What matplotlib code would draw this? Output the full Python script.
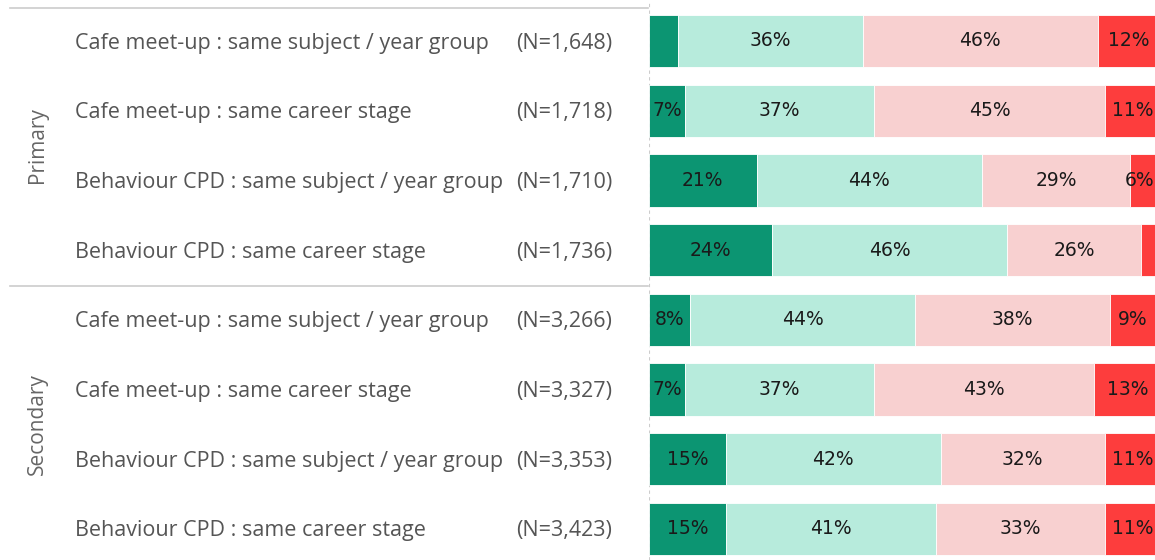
import matplotlib.pyplot as plt
from matplotlib.transforms import blended_transform_factory
from matplotlib.lines import Line2D

# data, top to bottom
labels = [
    "Cafe meet-up : same subject / year group",
    "Cafe meet-up : same career stage",
    "Behaviour CPD : same subject / year group",
    "Behaviour CPD : same career stage",
    "Cafe meet-up : same subject / year group",
    "Cafe meet-up : same career stage",
    "Behaviour CPD : same subject / year group",
    "Behaviour CPD : same career stage",
]
counts = ["(N=1,648)", "(N=1,718)", "(N=1,710)", "(N=1,736)",
          "(N=3,266)", "(N=3,327)", "(N=3,353)", "(N=3,423)"]
groups = ["Primary", "Secondary"]
group_rows = [(0, 3), (4, 7)]

very_likely = [5.7, 7, 21, 24, 8, 7, 15, 15]
fairly_likely = [36, 37, 44, 46, 44, 37, 42, 41]
not_very = [46, 45, 29, 26, 38, 43, 32, 33]
not_at_all = [12, 11, 6, 4, 9, 13, 11, 11]

series = [very_likely, fairly_likely, not_very, not_at_all]
colors = ["#0c9572", "#b7ebdc", "#f8d0d0", "#fd3d3d"]

W, H = 1155, 560
fig = plt.figure(figsize=(W / 100, H / 100), dpi=100)
plt.rcParams['font.family'] = ['Open Sans', 'DejaVu Sans']

bar_left = 649 / W
ax = fig.add_axes([bar_left, 0, 1 - bar_left, 1])
row_px = 69.7
first_px = 41
ax.set_ylim((H - first_px) / row_px, -first_px / row_px)
xmax = 100 * (W - 649) / 512
ax.set_xlim(0, xmax)
ax.axis("off")

ys = list(range(len(labels)))
left = [0] * len(labels)
for vals, col in zip(series, colors):
    ax.barh(ys, vals, left=left, height=0.75, color=col, edgecolor="white", linewidth=0.6)
    for y, v, l in zip(ys, vals, left):
        if v < 6:
            continue
        x, ha = l + v / 2, "center"
        if x + 3.5 > xmax:
            # keep label inside the visible part of the bar
            x, ha = xmax - 0.2, "right"
        ax.text(x, y, f"{round(v)}%", ha=ha, va="center",
                fontsize=13.5, color="#1a1a1a", family=["DejaVu Sans"])
    left = [a + b for a, b in zip(left, vals)]

# dashed baseline
ax.axvline(0, color="#cccccc", lw=0.8, ls=(0, (3, 3)), zorder=0)

tr = blended_transform_factory(fig.transFigure, ax.transData)
for y, lab, n in zip(ys, labels, counts):
    ax.text(75 / W, y + 0.03, lab, transform=tr, ha="left", va="center",
            fontsize=15.5, color="#555555", clip_on=False)
    ax.text(516 / W, y + 0.03, n, transform=tr, ha="left", va="center",
            fontsize=15.5, color="#555555", clip_on=False)

for g, (a, b) in zip(groups, group_rows):
    ax.text(37 / W, (a + b) / 2, g, transform=tr, ha="center", va="center",
            rotation=90, fontsize=15, color="#666666", clip_on=False)

for yl in [-0.475, 3.515]:
    fig.add_artist(Line2D([10 / W, 648 / W], [yl, yl], color="#cccccc", lw=1.2,
                          transform=tr))

fig.savefig("out.png", dpi=100)
